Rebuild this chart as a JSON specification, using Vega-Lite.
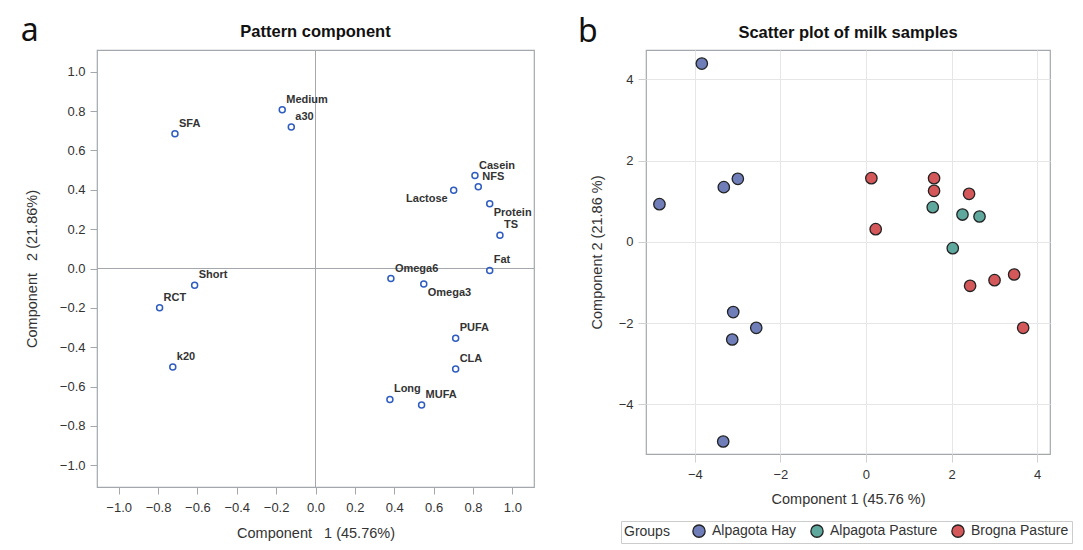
{
  "$schema": "https://vega.github.io/schema/vega-lite/v6.json",
  "padding": {"left": 20, "top": 15, "right": 5, "bottom": 5},
  "spacing": 42,
  "config": {
    "font": "Liberation Sans",
    "view": {"stroke": "#A4A8AD", "strokeWidth": 1.2},
    "axis": {
      "labelFont": "Liberation Sans",
      "titleFont": "Liberation Sans",
      "labelColor": "#333333",
      "titleColor": "#333333",
      "titleFontWeight": "normal",
      "titleFontSize": 14.5,
      "labelFontSize": 13,
      "domain": false
    },
    "title": {"font": "Liberation Sans", "fontWeight": "bold", "fontSize": 16.5, "color": "#111111", "offset": 9}
  },
  "hconcat": [
    {
      "title": {"text": "a", "anchor": "start", "frame": "bounds", "font": "Noto Sans", "fontWeight": "normal", "fontSize": 32, "dx": -3, "dy": 34, "color": "#111111"},
      "vconcat": [
        {
          "title": {"text": "Pattern component"},
          "width": 437,
          "height": 437,
          "data": {"values": [
            {"var": "Medium", "c1": -0.169, "c2": 0.806},
            {"var": "a30", "c1": -0.123, "c2": 0.719},
            {"var": "SFA", "c1": -0.714, "c2": 0.685},
            {"var": "Casein", "c1": 0.810, "c2": 0.472},
            {"var": "NFS", "c1": 0.827, "c2": 0.415},
            {"var": "Lactose", "c1": 0.702, "c2": 0.398},
            {"var": "Protein", "c1": 0.885, "c2": 0.329},
            {"var": "TS", "c1": 0.937, "c2": 0.169},
            {"var": "Fat", "c1": 0.885, "c2": -0.010},
            {"var": "Omega6", "c1": 0.383, "c2": -0.051},
            {"var": "Omega3", "c1": 0.550, "c2": -0.079},
            {"var": "Short", "c1": -0.614, "c2": -0.085},
            {"var": "RCT", "c1": -0.792, "c2": -0.199},
            {"var": "k20", "c1": -0.725, "c2": -0.500},
            {"var": "PUFA", "c1": 0.712, "c2": -0.354},
            {"var": "CLA", "c1": 0.712, "c2": -0.510},
            {"var": "Long", "c1": 0.378, "c2": -0.665},
            {"var": "MUFA", "c1": 0.539, "c2": -0.694}
          ]},
          "encoding": {
            "x": {"field": "c1", "type": "quantitative",
              "scale": {"domain": [-1.11, 1.11], "nice": false, "zero": false},
              "axis": {"values": [-1, -0.8, -0.6, -0.4, -0.2, 0, 0.2, 0.4, 0.6, 0.8, 1], "format": ".1f", "grid": false,
                "tickColor": "#A4A8AD", "tickSize": 7, "labelPadding": 7, "titlePadding": 12,
                "title": "Component\u00a0\u00a0 1 (45.76%)"}},
            "y": {"field": "c2", "type": "quantitative",
              "scale": {"domain": [-1.11, 1.11], "nice": false, "zero": false},
              "axis": {"values": [-1, -0.8, -0.6, -0.4, -0.2, 0, 0.2, 0.4, 0.6, 0.8, 1], "format": ".1f", "grid": false,
                "tickColor": "#A4A8AD", "tickSize": 7, "labelPadding": 5, "titlePadding": 20,
                "title": "Component\u00a0\u00a0 2 (21.86%)"}}
          },
          "layer": [
            {"mark": {"type": "rule", "color": "#A4A8AD", "strokeWidth": 1}, "encoding": {"x": {"datum": 0}, "y": null}},
            {"mark": {"type": "rule", "color": "#A4A8AD", "strokeWidth": 1}, "encoding": {"y": {"datum": 0}, "x": null}},
            {"mark": {"type": "point", "shape": "circle", "filled": false, "color": "#2E5CC0", "size": 36, "strokeWidth": 1.5, "opacity": 1}},
            {"transform": [{"filter": "datum.var !== 'Lactose' && datum.var !== 'Protein' && datum.var !== 'Omega3'"}],
             "mark": {"type": "text", "align": "left", "baseline": "middle", "dx": 4, "dy": -10, "fontSize": 11, "fontWeight": "bold", "color": "#333333"},
             "encoding": {"text": {"field": "var"}}},
            {"transform": [{"filter": "datum.var === 'Protein' || datum.var === 'Omega3'"}],
             "mark": {"type": "text", "align": "left", "baseline": "middle", "dx": 4, "dy": 9, "fontSize": 11, "fontWeight": "bold", "color": "#333333"},
             "encoding": {"text": {"field": "var"}}},
            {"transform": [{"filter": "datum.var === 'Lactose'"}],
             "mark": {"type": "text", "align": "right", "baseline": "middle", "dx": -6, "dy": 9, "fontSize": 11, "fontWeight": "bold", "color": "#333333"},
             "encoding": {"text": {"field": "var"}}}
          ]
        }
      ]
    },
    {
      "title": {"text": "b", "anchor": "start", "frame": "bounds", "font": "Noto Sans", "fontWeight": "normal", "fontSize": 32, "dx": -10.5, "dy": 34, "color": "#111111"},
      "vconcat": [
        {
          "title": {"text": "Scatter plot of milk samples"},
          "width": 404,
          "height": 404,
          "data": {"values": [
            {"group": "Alpagota Hay", "c1": -3.836, "c2": 4.386},
            {"group": "Alpagota Hay", "c1": -4.826, "c2": 0.927},
            {"group": "Alpagota Hay", "c1": -3.322, "c2": 1.346},
            {"group": "Alpagota Hay", "c1": -2.994, "c2": 1.550},
            {"group": "Alpagota Hay", "c1": -3.102, "c2": -1.729},
            {"group": "Alpagota Hay", "c1": -2.564, "c2": -2.116},
            {"group": "Alpagota Hay", "c1": -3.125, "c2": -2.403},
            {"group": "Alpagota Hay", "c1": -3.336, "c2": -4.913},
            {"group": "Alpagota Pasture", "c1": 1.560, "c2": 0.853},
            {"group": "Alpagota Pasture", "c1": 2.255, "c2": 0.672},
            {"group": "Alpagota Pasture", "c1": 2.653, "c2": 0.623},
            {"group": "Alpagota Pasture", "c1": 2.028, "c2": -0.155},
            {"group": "Brogna Pasture", "c1": 0.126, "c2": 1.567},
            {"group": "Brogna Pasture", "c1": 0.227, "c2": 0.312},
            {"group": "Brogna Pasture", "c1": 1.591, "c2": 1.567},
            {"group": "Brogna Pasture", "c1": 1.591, "c2": 1.255},
            {"group": "Brogna Pasture", "c1": 2.409, "c2": 1.181},
            {"group": "Brogna Pasture", "c1": 2.433, "c2": -1.082},
            {"group": "Brogna Pasture", "c1": 3.004, "c2": -0.943},
            {"group": "Brogna Pasture", "c1": 3.462, "c2": -0.804},
            {"group": "Brogna Pasture", "c1": 3.673, "c2": -2.116}
          ]},
          "mark": {"type": "point", "shape": "circle", "filled": true, "size": 130, "stroke": "#222222", "strokeWidth": 1.3, "opacity": 1},
          "encoding": {
            "x": {"field": "c1", "type": "quantitative",
              "scale": {"domain": [-5.14, 4.30], "nice": false, "zero": false},
              "axis": {"values": [-4, -2, 0, 2, 4], "format": "d", "gridColor": "#E6E6E6", "tickColor": "#D0D0D0", "tickSize": 8, "labelPadding": 6, "titlePadding": 11, "title": "Component 1 (45.76 %)"}},
            "y": {"field": "c2", "type": "quantitative",
              "scale": {"domain": [-5.22, 4.72], "nice": false, "zero": false},
              "axis": {"values": [-4, -2, 0, 2, 4], "format": "d", "gridColor": "#E6E6E6", "tickColor": "#D0D0D0", "tickSize": 8, "labelPadding": 5, "titlePadding": 14, "title": "Component 2 (21.86 %)"}},
            "fill": {"field": "group", "type": "nominal",
              "scale": {"domain": ["Alpagota Hay", "Alpagota Pasture", "Brogna Pasture"], "range": ["#6F7EB8", "#5FA89E", "#D4575A"]},
              "legend": {"orient": "none", "legendX": 524, "legendY": 471, "direction": "horizontal", "title": "Groups", "titleOrient": "left",
                "titleFontWeight": "normal", "titleFontSize": 14, "titleColor": "#333333", "labelFontSize": 14, "labelColor": "#333333",
                "symbolType": "circle", "symbolSize": 150, "symbolStrokeColor": "#222222", "symbolStrokeWidth": 1.3,
                "strokeColor": "#CCCCCC", "padding": 3, "columnPadding": 11, "titlePadding": 22, "labelOffset": 6}}
          }
        }
      ]
    }
  ]
}
